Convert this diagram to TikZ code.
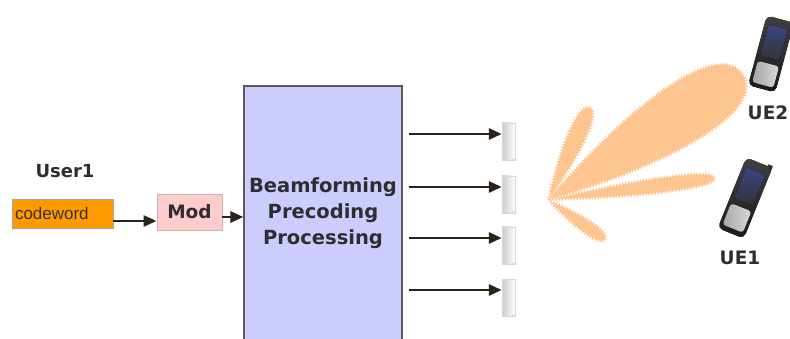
\documentclass[tikz,border=0pt]{standalone}
\usepackage{fontspec}
\setmainfont{DejaVu Sans}
\newfontfamily\plainfont{Liberation Sans}
\usetikzlibrary{calc}
\usetikzlibrary{arrows.meta}
\usetikzlibrary{decorations.pathmorphing}
\usepackage{xcolor}
\definecolor{codeorange}{HTML}{FF9900}
\definecolor{modpink}{HTML}{FFCCCC}
\definecolor{bfblue}{HTML}{CCCCFF}
\definecolor{arrowdark}{HTML}{2A231B}
\definecolor{lobepeach}{HTML}{FDC690}
\definecolor{labelgray}{HTML}{2E2E2E}
\definecolor{screenblue}{HTML}{3A4585}

\begin{document}
\begin{tikzpicture}[x=1pt,y=-1pt,
    arr/.style={-{Triangle[length=13pt,width=11pt]},line width=2.8pt,draw=arrowdark},
    blk/.style={draw,rectangle,inner sep=0pt,line width=0.9pt},
    lbl/.style={font=\bfseries\fontsize{18}{20}\selectfont,text=labelgray,inner sep=0pt},
    ant/.style={rectangle,inner sep=0pt,minimum width=13pt,minimum height=37pt,
      left color=gray!40,right color=white,draw=gray!30,line width=0.4pt},
    lobe/.style={fill=lobepeach,decorate,decoration={zigzag,segment length=3pt,amplitude=1.6pt}}]
  \useasboundingbox (0,0) rectangle (790,339);

  \node[lbl] (user) at (65,171.5) {User1};
  \node[blk,fill=codeorange,draw=gray!70,minimum width=101pt,minimum height=29pt,
    text width=95pt,inner xsep=3pt,align=left,font=\plainfont\fontsize{17}{18}\selectfont,
    text=black!80] (code) at (62.5,213.5) {codeword};
  \node[blk,fill=modpink,draw=red!20!gray!50,minimum width=65pt,minimum height=36pt,
    font=\bfseries\fontsize{18.5}{20}\selectfont,text=labelgray] (mod) at (189.5,212) {Mod};
  \node[blk,fill=bfblue,draw=black!65,line width=1.2pt,minimum width=158pt,minimum height=254pt,
    align=center,font=\bfseries\fontsize{19.5}{26}\selectfont,text=labelgray] (bf) at (323,213)
    {Beamforming\\Precoding\\Processing};

  \draw[arr] ([yshift=-7.5pt]code.east) -- ([yshift=-7.5pt]code.east -| mod.west);
  \draw[arr] ([yshift=-5pt]mod.east) -- ([yshift=-5pt]mod.east -| bf.west);

  % antenna elements
  \foreach \i/\y in {1/134,2/187,3/238,4/290}{
    \node[ant] (ant\i) at (508.5,\y+7.5) {};
    \draw[gray!40,line width=0.6pt] ([xshift=-4pt]ant\i.south east) -- ++(5,-2);
    \coordinate (tip\i) at ([yshift=7.5pt]ant\i.west);
    \draw[arr] ([xshift=6pt]bf.east |- tip\i) -- (tip\i);
  }

  % beam lobes
  \foreach \a/\l/\w in {32.8/232/36,65.7/102/11,7.5/169/9,-34.6/70/8}
    \fill[lobe,shift={(548,200)},rotate=\a]
      (0,0) .. controls (0.5*\l,\w) and (\l,1.25*\w) .. (\l,0)
      .. controls (\l,-1.25*\w) and (0.5*\l,-\w) .. (0,0);

  % handsets
  \begin{scope}[shift={(771,54)},rotate=-15]
    \fill[rounded corners=5pt,top color=black!75,bottom color=black!90] (-14,-36) rectangle (14,36);
    \fill[rounded corners=2pt,top color=screenblue,bottom color=black!80] (-10,-28) rectangle (10,4);
    \fill[rounded corners=3pt,left color=gray!70,right color=gray!30] (-11,10) rectangle (11,32);
  \end{scope}
  \begin{scope}[shift={(745,198)},rotate=-22]
    \fill[black!80] (9,-40) rectangle (14,-30);
    \fill[rounded corners=5pt,top color=black!75,bottom color=black!90] (-14,-38) rectangle (14,38);
    \fill[rounded corners=2pt,top color=screenblue,bottom color=black!80] (-10,-29) rectangle (10,4);
    \fill[rounded corners=3pt,left color=gray!70,right color=gray!30] (-11,10) rectangle (11,33);
  \end{scope}
  \node[lbl,font=\bfseries\fontsize{18.5}{20}\selectfont] (ue2) at (768,113) {UE2};
  \node[lbl,font=\bfseries\fontsize{18.5}{20}\selectfont] (ue1) at (740,258) {UE1};
\end{tikzpicture}
\end{document}
